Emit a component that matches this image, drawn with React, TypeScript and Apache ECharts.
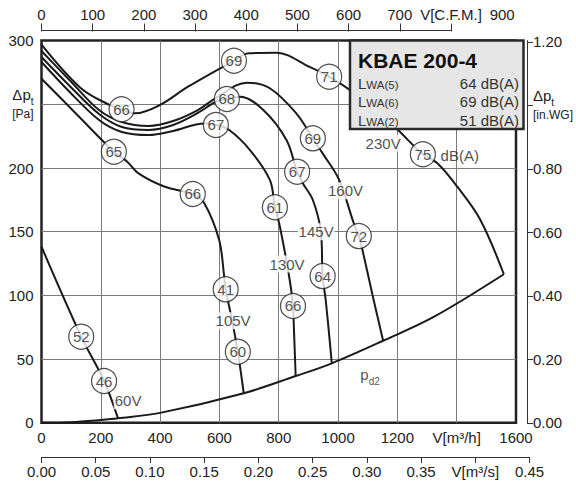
import React, { useEffect, useRef } from 'react';
import * as echarts from 'echarts';

const FONT = '"Liberation Sans", Arial, Helvetica, sans-serif';
const INK = '#222';

// unit conversions
const M3H_PER_CFM = 1.69901;
const PA_PER_INWG = 249.089;
const M3H_PER_M3S = 3600;

// axis ticks & labels
const flowTickLabels = ['0', '200', '400', '600', '800', '1000', '1200', 'V[m³/h]', '1600'];
const paTickLabels = ['0', '50', '100', '150', '200', '{d|Δp}{s|t}\n{u|[Pa]}', '300'];
const m3sTicks = [0, 0.05, 0.1, 0.15, 0.2, 0.25, 0.3, 0.35, 0.4, 0.45];
const m3sTickLabels = ['0.00', '0.05', '0.10', '0.15', '0.20', '0.25', '0.30', '0.35', 'V[m³/s]', '0.45'];
const cfmTicks = [0, 100, 200, 300, 400, 500, 600, 700, 800];
const cfmLabelValues = [0, 100, 200, 300, 400, 500, 600, 700, 800, 900];
const cfmTickLabels = ['0', '100', '200', '300', '400', '500', '600', '700', 'V[C.F.M.]', '900'];
const inwgTicks = [0, 0.2, 0.4, 0.6, 0.8, 1.0, 1.2];
const inwgTickLabels = ['0.00', '0.20', '0.40', '0.60', '0.80', '{d|Δp}{s|t}\n{u|[in.WG]}', '1.20'];

// fan curves [V m³/h, Δp Pa]
const curve230V = [[0, 296.8], [132, 262.8], [227, 249.7], [270, 246.1], [316, 242.9], [400, 249.5], [494, 263.8], [649, 284.2], [699, 290], [793, 290.5], [903, 279.5], [970, 271.7], [1060, 258], [1130, 245], [1202, 229.8], [1286, 210.8], [1335, 203.7], [1402, 185.3], [1480, 159.2], [1559, 116.6]];
const curve160V = [[0, 291.8], [95, 268.9], [194, 245.5], [271, 236.1], [361, 233], [444, 236.9], [527, 245.5], [593, 255.7], [693, 267], [770, 262.6], [859, 242.9], [915, 223.3], [948, 211.5], [1003, 191], [1053, 156.6], [1070, 146.6], [1081, 137], [1116, 100.5], [1152, 64.4]];
const curve145V = [[0, 287.1], [95, 264.4], [194, 242.4], [271, 232.2], [361, 229.9], [444, 233.8], [527, 243.2], [588, 252], [625, 254.2], [670, 256], [748, 245.5], [826, 222], [862, 197.1], [881, 188], [915, 174.9], [942, 150], [948, 115.2], [959, 95], [979, 46.7]];
const curve130V = [[0, 283.2], [95, 259.7], [194, 237.7], [271, 228.3], [361, 225.9], [444, 229.1], [549, 235], [588, 234], [632, 230], [703, 214.1], [770, 190.6], [787, 169.2], [804, 153.9], [837, 112.1], [848, 91.7], [851, 75], [857, 36.7]];
const curve105V = [[0, 270.1], [121, 241.6], [244, 212.8], [289, 205], [327, 195.8], [416, 185.3], [510, 179.6], [549, 172.3], [599, 143.5], [615.5, 116], [621, 104.8], [643, 80], [662, 55.8], [672, 39.9], [682, 23.2]];
const curve60V = [[0, 138.2], [134, 67.6], [211, 32.8], [258, 3.5]];
const pd2Curve = [[0, 0], [100, 0.5], [200, 2.2], [258, 3.5], [400, 7.8], [682, 23.2], [857, 36.7], [979, 46.7], [1152, 64.4], [1324, 83.3], [1559, 116.6]];

// sound power markers [V, Δp, dB(A)]
const db230V = [[270, 246.1, 66], [649, 284.2, 69], [970, 271.7, 71], [1286, 210.8, 75]];
const db160V = [[915, 223.3, 69], [1070, 146.6, 72]];
const db145V = [[625, 254.2, 68], [862, 197.1, 67], [948, 115.2, 64]];
const db130V = [[588, 233.8, 67], [787, 169.2, 61], [848, 91.7, 66]];
const db105V = [[244, 212.8, 65], [510, 179.6, 66], [621, 104.8, 41], [662, 55.8, 60]];
const db60V = [[134, 67.6, 52], [211, 32.8, 46]];

// curve labels [V, Δp, text]
const voltageLabels = [[1152, 219.4, '230V'], [1025, 182.2, '160V'], [926, 150, '145V'], [828, 124.6, '130V'], [646, 80.1, '105V'], [292, 17.3, '60V']];
const dbUnitLabel = [1344, 209.7, 'dB(A)'];
const pd2Label = [1108, 36.2, '{p|p}{s|d2}'];

// info box rows
const boxTitle = 'KBAE 200-4';
const boxRowKeys = ['5', '6', '2'];
const boxRowValues = ['64 dB(A)', '69 dB(A)', '51 dB(A)'];

const GRID_LEFT = 41.5;
const GRID_TOP = 40.6;
const GRID_W = 482;
const GRID_H = 382.2;
const TOP_AXIS_Y = 30.5;
const M3S_AXIS_Y = 457;

const subRich = {
  d: { fontSize: 15, color: INK, fontFamily: FONT, padding: [0, 0, 4, 0], verticalAlign: 'bottom' },
  s: { fontSize: 10, color: INK, fontFamily: FONT, verticalAlign: 'bottom' },
  u: { fontSize: 12, color: INK, fontFamily: FONT, lineHeight: 15 },
};

const baseLabel = { fontSize: 15, color: INK, fontFamily: FONT };

function idxOf(arr: number[], v: number) {
  return arr.findIndex((t) => Math.abs(t - v) < 1e-6);
}

function curveSeries(data: number[][]) {
  return {
    type: 'line',
    data,
    smooth: 0.35,
    symbol: 'none',
    silent: true,
    lineStyle: { color: '#1a1a1a', width: 2 },
    z: 3,
  };
}

function dbSeries(data: number[][]) {
  return {
    type: 'scatter',
    data,
    symbol: 'circle',
    symbolSize: 25,
    silent: true,
    itemStyle: { color: '#fff', borderColor: '#222', borderWidth: 1.2 },
    label: {
      show: true,
      position: 'inside',
      formatter: (p: any) => String(p.value[2]),
      ...baseLabel,
    },
    z: 5,
  };
}

export default function App() {
  const ref = useRef<HTMLDivElement>(null);

  useEffect(() => {
    const chart = echarts.init(ref.current!, null, { renderer: 'svg' });
    const option: any = {
      animation: false,
      backgroundColor: '#fff',
      grid: [
        { left: GRID_LEFT, top: GRID_TOP, width: GRID_W, height: GRID_H, show: true, borderColor: '#222', borderWidth: 2.5, backgroundColor: 'transparent' },
        { left: GRID_LEFT, top: TOP_AXIS_Y, width: GRID_W, height: 1 },
        { left: GRID_LEFT, top: M3S_AXIS_Y - 1, width: GRID_W * (0.45 * M3H_PER_M3S / 1600), height: 1 },
      ],
      xAxis: [
        {
          gridIndex: 0, type: 'value', min: 0, max: 1600, interval: 200, position: 'bottom',
          axisLine: { show: false }, axisTick: { show: false },
          splitLine: { show: true, showMinLine: false, showMaxLine: false, lineStyle: { color: '#7a7a7a', width: 1 } },
          axisLabel: { ...baseLabel, margin: 7, interval: 0, formatter: (v: number, i: number) => flowTickLabels[i] ?? '' },
        },
        {
          gridIndex: 1, type: 'value', min: 0, max: 1600 / M3H_PER_CFM, interval: 100, position: 'top',
          axisLine: { show: false },
          axisTick: { show: true, customValues: cfmTicks, length: 8, lineStyle: { color: '#333', width: 1 } },
          splitLine: { show: false },
          axisLabel: {
            ...baseLabel, margin: 9, customValues: cfmLabelValues,
            formatter: (v: number) => { const i = idxOf(cfmLabelValues, v); return i >= 0 ? cfmTickLabels[i] : ''; },
          },
        },
        {
          gridIndex: 2, type: 'value', min: 0, max: 0.45, interval: 0.05, position: 'bottom',
          axisLine: { show: true, lineStyle: { color: '#333', width: 1 } },
          axisTick: { show: true, customValues: m3sTicks, length: 6, lineStyle: { color: '#333', width: 1 } },
          splitLine: { show: false },
          axisLabel: {
            ...baseLabel, margin: 7, customValues: m3sTicks,
            formatter: (v: number) => { const i = idxOf(m3sTicks, v); return i >= 0 ? m3sTickLabels[i] : ''; },
          },
        },
      ],
      yAxis: [
        {
          gridIndex: 0, type: 'value', min: 0, max: 300, interval: 50,
          axisLine: { show: false }, axisTick: { show: false },
          splitLine: { show: true, showMinLine: false, showMaxLine: false, lineStyle: { color: '#7a7a7a', width: 1 } },
          axisLabel: { ...baseLabel, margin: 8, rich: subRich, formatter: (v: number, i: number) => paTickLabels[i] ?? '' },
        },
        {
          gridIndex: 0, type: 'value', position: 'right', offset: 11, min: 0, max: 300 / PA_PER_INWG,
          axisLine: { show: true, lineStyle: { color: '#333', width: 1 } },
          axisTick: { show: true, customValues: inwgTicks, length: 6, lineStyle: { color: '#333', width: 1 } },
          splitLine: { show: false },
          axisLabel: {
            ...baseLabel, margin: 6, customValues: inwgTicks, rich: subRich,
            formatter: (v: number) => { const i = idxOf(inwgTicks, v); return i >= 0 ? inwgTickLabels[i] : ''; },
          },
        },
        { gridIndex: 1, type: 'value', show: false, min: 0, max: 1 },
        { gridIndex: 2, type: 'value', show: false, min: 0, max: 1 },
      ],
      series: [
        curveSeries(curve230V),
        curveSeries(curve160V),
        curveSeries(curve145V),
        curveSeries(curve130V),
        curveSeries(curve105V),
        curveSeries(curve60V),
        curveSeries(pd2Curve),
        dbSeries(db230V),
        dbSeries(db160V),
        dbSeries(db145V),
        dbSeries(db130V),
        dbSeries(db105V),
        dbSeries(db60V),
        {
          type: 'scatter',
          silent: true,
          symbolSize: 1,
          itemStyle: { color: 'rgba(0,0,0,0)' },
          z: 6,
          data: [
            ...voltageLabels.map((d) => ({
              value: d,
              label: { show: true, position: 'inside', formatter: String(d[2]), ...baseLabel, backgroundColor: '#fff', padding: [1, 1] },
            })),
            {
              value: dbUnitLabel,
              label: { show: true, position: 'right', distance: 0, formatter: String(dbUnitLabel[2]), ...baseLabel },
            },
            {
              value: pd2Label,
              label: {
                show: true, position: 'inside', formatter: String(pd2Label[2]),
                rich: {
                  p: { fontSize: 15, color: INK, fontFamily: FONT, padding: [0, 0, 4, 0], verticalAlign: 'bottom' },
                  s: { fontSize: 10, color: INK, fontFamily: FONT, verticalAlign: 'bottom' },
                },
              },
            },
          ],
        },
      ],
    };
    chart.setOption(option);

    const x0 = chart.convertToPixel({ xAxisIndex: 1 } as any, cfmTicks[0]) as unknown as number;
    const x1 = chart.convertToPixel({ xAxisIndex: 1 } as any, cfmTicks[cfmTicks.length - 1]) as unknown as number;

    const boxX = 350;
    const boxRight = GRID_LEFT + GRID_W;
    const boxY = GRID_TOP;
    const boxBottom = 129;
    const rowY = [83, 101.5, 120];

    const graphic: any[] = [
      {
        type: 'line', z: 50, silent: true,
        shape: { x1: x0, y1: TOP_AXIS_Y, x2: x1, y2: TOP_AXIS_Y },
        style: { stroke: '#333', lineWidth: 1 },
      },
      {
        type: 'rect', z: 100, silent: true,
        shape: { x: boxX, y: boxY, width: boxRight - boxX, height: boxBottom - boxY },
        style: { fill: '#e6e6e6', stroke: '#2a2a2a', lineWidth: 2.5 },
      },
      {
        type: 'text', z: 101, silent: true,
        style: {
          x: 358, y: 60, text: boxTitle, fill: '#111',
          font: `bold 21px ${FONT}`, align: 'left', verticalAlign: 'middle', textAlign: 'left', textVerticalAlign: 'middle',
        },
      },
    ];
    boxRowKeys.forEach((k, i) => {
      graphic.push({
        type: 'text', z: 101, silent: true,
        style: {
          x: 358, y: rowY[i], text: `{L|L}{w|WA(${k})}`, fill: '#333',
          align: 'left', verticalAlign: 'middle', textAlign: 'left', textVerticalAlign: 'middle',
          rich: {
            L: { fontSize: 15, fontFamily: FONT, fill: '#333', color: '#333', verticalAlign: 'bottom' },
            w: { fontSize: 11.5, fontFamily: FONT, fill: '#333', color: '#333', verticalAlign: 'bottom' },
          },
        },
      });
      graphic.push({
        type: 'text', z: 101, silent: true,
        style: {
          x: 519, y: rowY[i], text: boxRowValues[i], fill: '#333',
          font: `15px ${FONT}`, align: 'right', verticalAlign: 'middle', textAlign: 'right', textVerticalAlign: 'middle',
        },
      });
    });
    chart.setOption({ graphic });

    return () => chart.dispose();
  }, []);

  return (
    <div
      ref={ref}
      style={{ position: 'absolute', left: 0, top: 0, width: 576, height: 485, background: '#fff' }}
    />
  );
}
